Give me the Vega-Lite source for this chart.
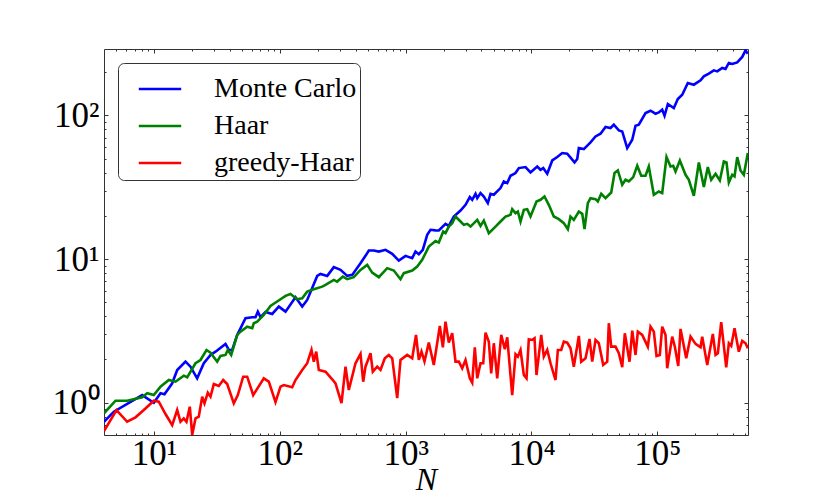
{
  "$schema": "https://vega.github.io/schema/vega-lite/v6.json",
  "width": 644,
  "height": 386,
  "autosize": {"type": "none"},
  "padding": {"left": 104, "top": 49, "right": 82, "bottom": 63},
  "background": "white",
  "data": {
    "values": [
      {"method": "Monte Carlo", "N": 4, "error": 0.737},
      {"method": "Monte Carlo", "N": 4.79, "error": 0.866},
      {"method": "Monte Carlo", "N": 8.05, "error": 1.13},
      {"method": "Monte Carlo", "N": 9.95, "error": 1.0},
      {"method": "Monte Carlo", "N": 11.25, "error": 1.163},
      {"method": "Monte Carlo", "N": 12.1, "error": 1.144},
      {"method": "Monte Carlo", "N": 13.94, "error": 1.365},
      {"method": "Monte Carlo", "N": 15.27, "error": 1.69},
      {"method": "Monte Carlo", "N": 17.78, "error": 1.931},
      {"method": "Monte Carlo", "N": 19.48, "error": 1.782},
      {"method": "Monte Carlo", "N": 22.0, "error": 1.479},
      {"method": "Monte Carlo", "N": 24.85, "error": 1.882},
      {"method": "Monte Carlo", "N": 28.1, "error": 2.15},
      {"method": "Monte Carlo", "N": 30.8, "error": 2.267},
      {"method": "Monte Carlo", "N": 36.97, "error": 2.566},
      {"method": "Monte Carlo", "N": 39.3, "error": 2.329},
      {"method": "Monte Carlo", "N": 41.8, "error": 2.329},
      {"method": "Monte Carlo", "N": 45.8, "error": 2.964},
      {"method": "Monte Carlo", "N": 53.3, "error": 3.875},
      {"method": "Monte Carlo", "N": 60.3, "error": 3.937},
      {"method": "Monte Carlo", "N": 64.0, "error": 3.937},
      {"method": "Monte Carlo", "N": 66.8, "error": 4.307},
      {"method": "Monte Carlo", "N": 70.2, "error": 3.937},
      {"method": "Monte Carlo", "N": 76.9, "error": 4.287},
      {"method": "Monte Carlo", "N": 86.9, "error": 4.151},
      {"method": "Monte Carlo", "N": 98.1, "error": 4.667},
      {"method": "Monte Carlo", "N": 110.9, "error": 4.307},
      {"method": "Monte Carlo", "N": 133.1, "error": 5.427},
      {"method": "Monte Carlo", "N": 150.5, "error": 4.667},
      {"method": "Monte Carlo", "N": 164.9, "error": 5.196},
      {"method": "Monte Carlo", "N": 198.1, "error": 7.636},
      {"method": "Monte Carlo", "N": 210.4, "error": 7.886},
      {"method": "Monte Carlo", "N": 237.9, "error": 7.636},
      {"method": "Monte Carlo", "N": 268.4, "error": 8.783},
      {"method": "Monte Carlo", "N": 303.4, "error": 8.409},
      {"method": "Monte Carlo", "N": 343, "error": 7.636},
      {"method": "Monte Carlo", "N": 375.8, "error": 7.76},
      {"method": "Monte Carlo", "N": 437.5, "error": 9.363},
      {"method": "Monte Carlo", "N": 479.3, "error": 10.53},
      {"method": "Monte Carlo", "N": 509.3, "error": 11.46},
      {"method": "Monte Carlo", "N": 558.1, "error": 11.46},
      {"method": "Monte Carlo", "N": 611.7, "error": 11.28},
      {"method": "Monte Carlo", "N": 691.3, "error": 11.59},
      {"method": "Monte Carlo", "N": 781.6, "error": 10.87},
      {"method": "Monte Carlo", "N": 881.9, "error": 9.76},
      {"method": "Monte Carlo", "N": 997, "error": 10.53},
      {"method": "Monte Carlo", "N": 1127, "error": 10.15},
      {"method": "Monte Carlo", "N": 1197, "error": 11.28},
      {"method": "Monte Carlo", "N": 1272, "error": 10.82},
      {"method": "Monte Carlo", "N": 1368, "error": 11.59},
      {"method": "Monte Carlo", "N": 1483, "error": 14.75},
      {"method": "Monte Carlo", "N": 1575, "error": 15.98},
      {"method": "Monte Carlo", "N": 1727, "error": 15.85},
      {"method": "Monte Carlo", "N": 1834, "error": 15.8},
      {"method": "Monte Carlo", "N": 2073, "error": 17.59},
      {"method": "Monte Carlo", "N": 2202, "error": 17.03},
      {"method": "Monte Carlo", "N": 2413, "error": 19.78},
      {"method": "Monte Carlo", "N": 2729, "error": 21.78},
      {"method": "Monte Carlo", "N": 2990, "error": 23.86},
      {"method": "Monte Carlo", "N": 3235, "error": 27.0},
      {"method": "Monte Carlo", "N": 3380, "error": 25.85},
      {"method": "Monte Carlo", "N": 3591, "error": 28.48},
      {"method": "Monte Carlo", "N": 3704, "error": 26.57},
      {"method": "Monte Carlo", "N": 3934, "error": 28.8},
      {"method": "Monte Carlo", "N": 4180, "error": 27.26},
      {"method": "Monte Carlo", "N": 4497, "error": 24.52},
      {"method": "Monte Carlo", "N": 4724, "error": 28.48},
      {"method": "Monte Carlo", "N": 5018, "error": 28.02},
      {"method": "Monte Carlo", "N": 5672, "error": 31.2},
      {"method": "Monte Carlo", "N": 6027, "error": 34.68},
      {"method": "Monte Carlo", "N": 6414, "error": 33.8},
      {"method": "Monte Carlo", "N": 6812, "error": 38.0},
      {"method": "Monte Carlo", "N": 7466, "error": 39.68},
      {"method": "Monte Carlo", "N": 7932, "error": 42.99},
      {"method": "Monte Carlo", "N": 8966, "error": 43.69},
      {"method": "Monte Carlo", "N": 9824, "error": 40.06},
      {"method": "Monte Carlo", "N": 11105, "error": 44.1},
      {"method": "Monte Carlo", "N": 11800, "error": 41.84},
      {"method": "Monte Carlo", "N": 12400, "error": 42.99},
      {"method": "Monte Carlo", "N": 13340, "error": 39.24},
      {"method": "Monte Carlo", "N": 14620, "error": 48.58},
      {"method": "Monte Carlo", "N": 16020, "error": 51.3},
      {"method": "Monte Carlo", "N": 17550, "error": 54.7},
      {"method": "Monte Carlo", "N": 19240, "error": 54.1},
      {"method": "Monte Carlo", "N": 21990, "error": 47.05},
      {"method": "Monte Carlo", "N": 23100, "error": 49.7},
      {"method": "Monte Carlo", "N": 23790, "error": 59.27},
      {"method": "Monte Carlo", "N": 26060, "error": 58.3},
      {"method": "Monte Carlo", "N": 29460, "error": 64.85},
      {"method": "Monte Carlo", "N": 32280, "error": 71.4},
      {"method": "Monte Carlo", "N": 35380, "error": 74.6},
      {"method": "Monte Carlo", "N": 38770, "error": 83.0},
      {"method": "Monte Carlo", "N": 42480, "error": 81.7},
      {"method": "Monte Carlo", "N": 45120, "error": 86.1},
      {"method": "Monte Carlo", "N": 49460, "error": 78.6},
      {"method": "Monte Carlo", "N": 52640, "error": 77.35},
      {"method": "Monte Carlo", "N": 57680, "error": 59.27},
      {"method": "Monte Carlo", "N": 63210, "error": 67.7},
      {"method": "Monte Carlo", "N": 67140, "error": 84.8},
      {"method": "Monte Carlo", "N": 71320, "error": 86.1},
      {"method": "Monte Carlo", "N": 80620, "error": 103.9},
      {"method": "Monte Carlo", "N": 88370, "error": 107.8},
      {"method": "Monte Carlo", "N": 96830, "error": 102.8},
      {"method": "Monte Carlo", "N": 102800, "error": 104.9},
      {"method": "Monte Carlo", "N": 109400, "error": 109.6},
      {"method": "Monte Carlo", "N": 114200, "error": 99.5},
      {"method": "Monte Carlo", "N": 121300, "error": 120.1},
      {"method": "Monte Carlo", "N": 135300, "error": 112.6},
      {"method": "Monte Carlo", "N": 145600, "error": 130.1},
      {"method": "Monte Carlo", "N": 157800, "error": 139.4},
      {"method": "Monte Carlo", "N": 174900, "error": 168.2},
      {"method": "Monte Carlo", "N": 195200, "error": 163.6},
      {"method": "Monte Carlo", "N": 220700, "error": 175.4},
      {"method": "Monte Carlo", "N": 234400, "error": 187.0},
      {"method": "Monte Carlo", "N": 256800, "error": 195.3},
      {"method": "Monte Carlo", "N": 281400, "error": 205.9},
      {"method": "Monte Carlo", "N": 299600, "error": 202.6},
      {"method": "Monte Carlo", "N": 328200, "error": 214.0},
      {"method": "Monte Carlo", "N": 348600, "error": 210.6},
      {"method": "Monte Carlo", "N": 370400, "error": 231.8},
      {"method": "Monte Carlo", "N": 394100, "error": 228.1},
      {"method": "Monte Carlo", "N": 431900, "error": 234.0},
      {"method": "Monte Carlo", "N": 473400, "error": 255.3},
      {"method": "Monte Carlo", "N": 502700, "error": 283.8},
      {"method": "Monte Carlo", "N": 524288, "error": 269.2},
      {"method": "Haar", "N": 4, "error": 0.844},
      {"method": "Haar", "N": 4.94, "error": 1.033},
      {"method": "Haar", "N": 6.11, "error": 1.033},
      {"method": "Haar", "N": 8.05, "error": 1.091},
      {"method": "Haar", "N": 8.82, "error": 1.163},
      {"method": "Haar", "N": 9.95, "error": 1.13},
      {"method": "Haar", "N": 11.25, "error": 1.293},
      {"method": "Haar", "N": 13.1, "error": 1.439},
      {"method": "Haar", "N": 14.8, "error": 1.401},
      {"method": "Haar", "N": 17.23, "error": 1.542},
      {"method": "Haar", "N": 18.34, "error": 1.503},
      {"method": "Haar", "N": 21.35, "error": 1.882},
      {"method": "Haar", "N": 23.39, "error": 1.984},
      {"method": "Haar", "N": 26.11, "error": 2.329},
      {"method": "Haar", "N": 28.1, "error": 2.231},
      {"method": "Haar", "N": 31.76, "error": 1.931},
      {"method": "Haar", "N": 33.74, "error": 2.116},
      {"method": "Haar", "N": 36.97, "error": 2.15},
      {"method": "Haar", "N": 38.56, "error": 2.329},
      {"method": "Haar", "N": 41.03, "error": 2.15},
      {"method": "Haar", "N": 45.8, "error": 2.964},
      {"method": "Haar", "N": 48.65, "error": 3.125},
      {"method": "Haar", "N": 55.0, "error": 3.385},
      {"method": "Haar", "N": 60.3, "error": 3.3},
      {"method": "Haar", "N": 62.05, "error": 3.575},
      {"method": "Haar", "N": 66.05, "error": 3.668},
      {"method": "Haar", "N": 74.5, "error": 4.085},
      {"method": "Haar", "N": 84.2, "error": 4.72},
      {"method": "Haar", "N": 101.2, "error": 5.255},
      {"method": "Haar", "N": 110.9, "error": 5.54},
      {"method": "Haar", "N": 121.5, "error": 5.72},
      {"method": "Haar", "N": 137.3, "error": 5.255},
      {"method": "Haar", "N": 150.5, "error": 5.34},
      {"method": "Haar", "N": 164.9, "error": 5.935},
      {"method": "Haar", "N": 186.1, "error": 6.17},
      {"method": "Haar", "N": 217.0, "error": 6.43},
      {"method": "Haar", "N": 230.6, "error": 6.61},
      {"method": "Haar", "N": 268.4, "error": 7.165},
      {"method": "Haar", "N": 285.6, "error": 6.97},
      {"method": "Haar", "N": 316.5, "error": 7.55},
      {"method": "Haar", "N": 343.0, "error": 7.245},
      {"method": "Haar", "N": 387.0, "error": 7.48},
      {"method": "Haar", "N": 437.5, "error": 8.409},
      {"method": "Haar", "N": 494.5, "error": 9.11},
      {"method": "Haar", "N": 541.9, "error": 8.05},
      {"method": "Haar", "N": 611.7, "error": 7.48},
      {"method": "Haar", "N": 713.2, "error": 8.645},
      {"method": "Haar", "N": 804.9, "error": 8.317},
      {"method": "Haar", "N": 909.7, "error": 7.245},
      {"method": "Haar", "N": 966.3, "error": 7.975},
      {"method": "Haar", "N": 1127, "error": 8.317},
      {"method": "Haar", "N": 1235, "error": 8.867},
      {"method": "Haar", "N": 1353, "error": 9.87},
      {"method": "Haar", "N": 1527, "error": 12.22},
      {"method": "Haar", "N": 1727, "error": 13.35},
      {"method": "Haar", "N": 1834, "error": 13.03},
      {"method": "Haar", "N": 1988, "error": 15.54},
      {"method": "Haar", "N": 2073, "error": 15.15},
      {"method": "Haar", "N": 2202, "error": 16.84},
      {"method": "Haar", "N": 2344, "error": 17.79},
      {"method": "Haar", "N": 2489, "error": 19.78},
      {"method": "Haar", "N": 2729, "error": 18.25},
      {"method": "Haar", "N": 2898, "error": 17.31},
      {"method": "Haar", "N": 3084, "error": 17.59},
      {"method": "Haar", "N": 3277, "error": 16.84},
      {"method": "Haar", "N": 3704, "error": 18.76},
      {"method": "Haar", "N": 3934, "error": 17.03},
      {"method": "Haar", "N": 4180, "error": 18.55},
      {"method": "Haar", "N": 4580, "error": 15.15},
      {"method": "Haar", "N": 5177, "error": 16.84},
      {"method": "Haar", "N": 5672, "error": 18.25},
      {"method": "Haar", "N": 6218, "error": 19.78},
      {"method": "Haar", "N": 6812, "error": 20.32},
      {"method": "Haar", "N": 7027, "error": 22.27},
      {"method": "Haar", "N": 7466, "error": 20.88},
      {"method": "Haar", "N": 7789, "error": 21.43},
      {"method": "Haar", "N": 8182, "error": 18.25},
      {"method": "Haar", "N": 8693, "error": 22.02},
      {"method": "Haar", "N": 9250, "error": 22.27},
      {"method": "Haar", "N": 9824, "error": 19.78},
      {"method": "Haar", "N": 10960, "error": 25.16},
      {"method": "Haar", "N": 11800, "error": 25.85},
      {"method": "Haar", "N": 12690, "error": 27.26},
      {"method": "Haar", "N": 13730, "error": 23.86},
      {"method": "Haar", "N": 15050, "error": 19.78},
      {"method": "Haar", "N": 16500, "error": 18.97},
      {"method": "Haar", "N": 18070, "error": 17.79},
      {"method": "Haar", "N": 19450, "error": 16.16},
      {"method": "Haar", "N": 20430, "error": 19.78},
      {"method": "Haar", "N": 21700, "error": 18.76},
      {"method": "Haar", "N": 23790, "error": 21.43},
      {"method": "Haar", "N": 25320, "error": 20.65},
      {"method": "Haar", "N": 26400, "error": 16.16},
      {"method": "Haar", "N": 28040, "error": 24.52},
      {"method": "Haar", "N": 29460, "error": 26.57},
      {"method": "Haar", "N": 32280, "error": 26.15},
      {"method": "Haar", "N": 33670, "error": 25.16},
      {"method": "Haar", "N": 35840, "error": 28.48},
      {"method": "Haar", "N": 38770, "error": 26.57},
      {"method": "Haar", "N": 43030, "error": 29.07},
      {"method": "Haar", "N": 45710, "error": 39.68},
      {"method": "Haar", "N": 48570, "error": 41.37},
      {"method": "Haar", "N": 52640, "error": 32.9},
      {"method": "Haar", "N": 55910, "error": 35.64},
      {"method": "Haar", "N": 59380, "error": 34.68},
      {"method": "Haar", "N": 64370, "error": 37.22},
      {"method": "Haar", "N": 69260, "error": 44.6},
      {"method": "Haar", "N": 74530, "error": 38.0},
      {"method": "Haar", "N": 80620, "error": 38.0},
      {"method": "Haar", "N": 85610, "error": 44.1},
      {"method": "Haar", "N": 93850, "error": 28.02},
      {"method": "Haar", "N": 102800, "error": 29.54},
      {"method": "Haar", "N": 109400, "error": 28.8},
      {"method": "Haar", "N": 118400, "error": 51.3},
      {"method": "Haar", "N": 127400, "error": 44.1},
      {"method": "Haar", "N": 133800, "error": 44.6},
      {"method": "Haar", "N": 139600, "error": 40.72},
      {"method": "Haar", "N": 151100, "error": 48.58},
      {"method": "Haar", "N": 167700, "error": 38.62},
      {"method": "Haar", "N": 178100, "error": 35.64},
      {"method": "Haar", "N": 195200, "error": 27.57},
      {"method": "Haar", "N": 213900, "error": 47.05},
      {"method": "Haar", "N": 234400, "error": 31.7},
      {"method": "Haar", "N": 252100, "error": 43.69},
      {"method": "Haar", "N": 268300, "error": 35.64},
      {"method": "Haar", "N": 290400, "error": 39.24},
      {"method": "Haar", "N": 314100, "error": 35.24},
      {"method": "Haar", "N": 338000, "error": 47.8},
      {"method": "Haar", "N": 355000, "error": 47.05},
      {"method": "Haar", "N": 370400, "error": 34.13},
      {"method": "Haar", "N": 394100, "error": 38.62},
      {"method": "Haar", "N": 411100, "error": 37.58},
      {"method": "Haar", "N": 431900, "error": 51.3},
      {"method": "Haar", "N": 458900, "error": 41.37},
      {"method": "Haar", "N": 487400, "error": 38.62},
      {"method": "Haar", "N": 524288, "error": 54.7},
      {"method": "greedy-Haar", "N": 4, "error": 0.635},
      {"method": "greedy-Haar", "N": 5.03, "error": 0.889},
      {"method": "greedy-Haar", "N": 6.11, "error": 0.737},
      {"method": "greedy-Haar", "N": 7.12, "error": 0.791},
      {"method": "greedy-Haar", "N": 8.29, "error": 0.889},
      {"method": "greedy-Haar", "N": 9.95, "error": 1.033},
      {"method": "greedy-Haar", "N": 10.9, "error": 1.016},
      {"method": "greedy-Haar", "N": 12.33, "error": 0.834},
      {"method": "greedy-Haar", "N": 13.94, "error": 0.699},
      {"method": "greedy-Haar", "N": 15.27, "error": 0.889},
      {"method": "greedy-Haar", "N": 16.22, "error": 0.737},
      {"method": "greedy-Haar", "N": 17.23, "error": 0.778},
      {"method": "greedy-Haar", "N": 18.1, "error": 0.737},
      {"method": "greedy-Haar", "N": 19.23, "error": 0.938},
      {"method": "greedy-Haar", "N": 20.1, "error": 0.598},
      {"method": "greedy-Haar", "N": 21.35, "error": 0.778},
      {"method": "greedy-Haar", "N": 22.67, "error": 0.799},
      {"method": "greedy-Haar", "N": 24.13, "error": 1.101},
      {"method": "greedy-Haar", "N": 25.17, "error": 0.99},
      {"method": "greedy-Haar", "N": 26.74, "error": 1.174},
      {"method": "greedy-Haar", "N": 28.1, "error": 1.101},
      {"method": "greedy-Haar", "N": 29.85, "error": 1.35},
      {"method": "greedy-Haar", "N": 32.7, "error": 1.307},
      {"method": "greedy-Haar", "N": 35.44, "error": 1.439},
      {"method": "greedy-Haar", "N": 38.13, "error": 1.35},
      {"method": "greedy-Haar", "N": 43.03, "error": 0.99},
      {"method": "greedy-Haar", "N": 46.3, "error": 1.13},
      {"method": "greedy-Haar", "N": 51.1, "error": 1.518},
      {"method": "greedy-Haar", "N": 55.0, "error": 1.518},
      {"method": "greedy-Haar", "N": 61.4, "error": 1.13},
      {"method": "greedy-Haar", "N": 74.5, "error": 1.479},
      {"method": "greedy-Haar", "N": 81.66, "error": 1.401},
      {"method": "greedy-Haar", "N": 92.3, "error": 1.011},
      {"method": "greedy-Haar", "N": 101.2, "error": 1.293},
      {"method": "greedy-Haar", "N": 107.5, "error": 1.328},
      {"method": "greedy-Haar", "N": 125.3, "error": 1.28},
      {"method": "greedy-Haar", "N": 133.1, "error": 1.439},
      {"method": "greedy-Haar", "N": 150.5, "error": 1.69},
      {"method": "greedy-Haar", "N": 164.9, "error": 1.882},
      {"method": "greedy-Haar", "N": 178.4, "error": 2.329},
      {"method": "greedy-Haar", "N": 186.1, "error": 1.931},
      {"method": "greedy-Haar", "N": 194.5, "error": 2.267},
      {"method": "greedy-Haar", "N": 203.9, "error": 1.69},
      {"method": "greedy-Haar", "N": 230.6, "error": 1.644},
      {"method": "greedy-Haar", "N": 260.6, "error": 1.456},
      {"method": "greedy-Haar", "N": 276.8, "error": 1.365},
      {"method": "greedy-Haar", "N": 309.0, "error": 0.995},
      {"method": "greedy-Haar", "N": 332.5, "error": 1.782},
      {"method": "greedy-Haar", "N": 353.1, "error": 1.226},
      {"method": "greedy-Haar", "N": 399.2, "error": 1.882},
      {"method": "greedy-Haar", "N": 437.5, "error": 2.185},
      {"method": "greedy-Haar", "N": 459.5, "error": 1.401},
      {"method": "greedy-Haar", "N": 479.3, "error": 1.782},
      {"method": "greedy-Haar", "N": 525.3, "error": 2.21},
      {"method": "greedy-Haar", "N": 547.9, "error": 1.644},
      {"method": "greedy-Haar", "N": 593.9, "error": 1.782},
      {"method": "greedy-Haar", "N": 630.8, "error": 1.69},
      {"method": "greedy-Haar", "N": 682.5, "error": 2.039},
      {"method": "greedy-Haar", "N": 734.2, "error": 2.15},
      {"method": "greedy-Haar", "N": 781.6, "error": 2.039},
      {"method": "greedy-Haar", "N": 856.4, "error": 1.078},
      {"method": "greedy-Haar", "N": 909.7, "error": 1.984},
      {"method": "greedy-Haar", "N": 1028, "error": 2.15},
      {"method": "greedy-Haar", "N": 1127, "error": 2.039},
      {"method": "greedy-Haar", "N": 1208, "error": 2.964},
      {"method": "greedy-Haar", "N": 1272, "error": 1.984},
      {"method": "greedy-Haar", "N": 1336, "error": 2.267},
      {"method": "greedy-Haar", "N": 1411, "error": 1.937},
      {"method": "greedy-Haar", "N": 1527, "error": 2.619},
      {"method": "greedy-Haar", "N": 1673, "error": 1.831},
      {"method": "greedy-Haar", "N": 1868, "error": 3.423},
      {"method": "greedy-Haar", "N": 1974, "error": 2.432},
      {"method": "greedy-Haar", "N": 2073, "error": 3.668},
      {"method": "greedy-Haar", "N": 2202, "error": 2.619},
      {"method": "greedy-Haar", "N": 2344, "error": 3.045},
      {"method": "greedy-Haar", "N": 2489, "error": 1.931},
      {"method": "greedy-Haar", "N": 2645, "error": 1.931},
      {"method": "greedy-Haar", "N": 2813, "error": 1.737},
      {"method": "greedy-Haar", "N": 2990, "error": 1.984},
      {"method": "greedy-Haar", "N": 3235, "error": 1.479},
      {"method": "greedy-Haar", "N": 3380, "error": 1.378},
      {"method": "greedy-Haar", "N": 3544, "error": 2.432},
      {"method": "greedy-Haar", "N": 3704, "error": 1.479},
      {"method": "greedy-Haar", "N": 3934, "error": 1.882},
      {"method": "greedy-Haar", "N": 4134, "error": 1.882},
      {"method": "greedy-Haar", "N": 4312, "error": 3.075},
      {"method": "greedy-Haar", "N": 4580, "error": 2.661},
      {"method": "greedy-Haar", "N": 4785, "error": 1.603},
      {"method": "greedy-Haar", "N": 5018, "error": 2.594},
      {"method": "greedy-Haar", "N": 5341, "error": 1.479},
      {"method": "greedy-Haar", "N": 5746, "error": 2.964},
      {"method": "greedy-Haar", "N": 6138, "error": 2.356},
      {"method": "greedy-Haar", "N": 6414, "error": 2.856},
      {"method": "greedy-Haar", "N": 7027, "error": 1.13},
      {"method": "greedy-Haar", "N": 7466, "error": 2.175},
      {"method": "greedy-Haar", "N": 7789, "error": 2.092},
      {"method": "greedy-Haar", "N": 8182, "error": 2.329},
      {"method": "greedy-Haar", "N": 8693, "error": 1.56},
      {"method": "greedy-Haar", "N": 9130, "error": 1.479},
      {"method": "greedy-Haar", "N": 9524, "error": 2.766},
      {"method": "greedy-Haar", "N": 10130, "error": 2.735},
      {"method": "greedy-Haar", "N": 10570, "error": 2.811},
      {"method": "greedy-Haar", "N": 10960, "error": 1.56},
      {"method": "greedy-Haar", "N": 11950, "error": 2.964},
      {"method": "greedy-Haar", "N": 12530, "error": 2.092},
      {"method": "greedy-Haar", "N": 13340, "error": 2.329},
      {"method": "greedy-Haar", "N": 14170, "error": 1.882},
      {"method": "greedy-Haar", "N": 15520, "error": 1.439},
      {"method": "greedy-Haar", "N": 16200, "error": 2.329},
      {"method": "greedy-Haar", "N": 17230, "error": 2.329},
      {"method": "greedy-Haar", "N": 18070, "error": 2.661},
      {"method": "greedy-Haar", "N": 19240, "error": 2.619},
      {"method": "greedy-Haar", "N": 20430, "error": 2.394},
      {"method": "greedy-Haar", "N": 21700, "error": 1.782},
      {"method": "greedy-Haar", "N": 23790, "error": 2.916},
      {"method": "greedy-Haar", "N": 24850, "error": 1.931},
      {"method": "greedy-Haar", "N": 26890, "error": 2.039},
      {"method": "greedy-Haar", "N": 28920, "error": 2.779},
      {"method": "greedy-Haar", "N": 30400, "error": 1.931},
      {"method": "greedy-Haar", "N": 32280, "error": 2.735},
      {"method": "greedy-Haar", "N": 34290, "error": 2.594},
      {"method": "greedy-Haar", "N": 37170, "error": 1.831},
      {"method": "greedy-Haar", "N": 39990, "error": 1.931},
      {"method": "greedy-Haar", "N": 41180, "error": 3.575},
      {"method": "greedy-Haar", "N": 43030, "error": 2.456},
      {"method": "greedy-Haar", "N": 46560, "error": 2.456},
      {"method": "greedy-Haar", "N": 49460, "error": 2.21},
      {"method": "greedy-Haar", "N": 52640, "error": 1.765},
      {"method": "greedy-Haar", "N": 55190, "error": 3.045},
      {"method": "greedy-Haar", "N": 60160, "error": 1.931},
      {"method": "greedy-Haar", "N": 63210, "error": 3.175},
      {"method": "greedy-Haar", "N": 67140, "error": 2.15},
      {"method": "greedy-Haar", "N": 70030, "error": 3.125},
      {"method": "greedy-Haar", "N": 75900, "error": 2.964},
      {"method": "greedy-Haar", "N": 84050, "error": 2.456},
      {"method": "greedy-Haar", "N": 88370, "error": 3.385},
      {"method": "greedy-Haar", "N": 93850, "error": 3.125},
      {"method": "greedy-Haar", "N": 98580, "error": 2.116},
      {"method": "greedy-Haar", "N": 104700, "error": 2.15},
      {"method": "greedy-Haar", "N": 109400, "error": 3.385},
      {"method": "greedy-Haar", "N": 116300, "error": 2.964},
      {"method": "greedy-Haar", "N": 119900, "error": 1.737},
      {"method": "greedy-Haar", "N": 131400, "error": 2.884},
      {"method": "greedy-Haar", "N": 137900, "error": 2.456},
      {"method": "greedy-Haar", "N": 146700, "error": 1.802},
      {"method": "greedy-Haar", "N": 153000, "error": 3.263},
      {"method": "greedy-Haar", "N": 169800, "error": 2.039},
      {"method": "greedy-Haar", "N": 183800, "error": 2.884},
      {"method": "greedy-Haar", "N": 201300, "error": 2.566},
      {"method": "greedy-Haar", "N": 220700, "error": 2.432},
      {"method": "greedy-Haar", "N": 227600, "error": 2.884},
      {"method": "greedy-Haar", "N": 249400, "error": 1.831},
      {"method": "greedy-Haar", "N": 276300, "error": 3.011},
      {"method": "greedy-Haar", "N": 290400, "error": 2.15},
      {"method": "greedy-Haar", "N": 302900, "error": 2.21},
      {"method": "greedy-Haar", "N": 322200, "error": 3.633},
      {"method": "greedy-Haar", "N": 353100, "error": 1.765},
      {"method": "greedy-Haar", "N": 370400, "error": 2.594},
      {"method": "greedy-Haar", "N": 387000, "error": 2.484},
      {"method": "greedy-Haar", "N": 411100, "error": 3.3},
      {"method": "greedy-Haar", "N": 444700, "error": 2.267},
      {"method": "greedy-Haar", "N": 473400, "error": 2.692},
      {"method": "greedy-Haar", "N": 502700, "error": 2.594},
      {"method": "greedy-Haar", "N": 524288, "error": 2.394}
    ]
  },
  "layer": [
    {
      "mark": {"type": "line", "strokeWidth": 2.6, "clip": true},
      "encoding": {
        "x": {
          "field": "N",
          "type": "quantitative",
          "scale": {"type": "log", "domain": [4, 526000], "nice": false},
          "axis": {
            "orient": "bottom",
            "values": [10, 100, 1000, 10000, 100000],
            "labelExpr": "datum.value == 10 ? '10¹' : datum.value == 100 ? '10²' : datum.value == 1000 ? '10³' : datum.value == 10000 ? '10⁴' : '10⁵'",
            "tickSize": -4,
            "labelPadding": 5,
            "title": "N",
            "titleFontStyle": "italic",
            "titleFontSize": 32,
            "titlePadding": -7
          }
        },
        "y": {
          "field": "error",
          "type": "quantitative",
          "scale": {"type": "log", "domain": [0.596, 290], "nice": false},
          "axis": {
            "orient": "left",
            "values": [1, 10, 100],
            "labelExpr": "datum.value == 1 ? '10⁰' : datum.value == 10 ? '10¹' : '10²'",
            "tickSize": -4,
            "labelPadding": 9,
            "title": null
          }
        },
        "color": {
          "field": "method",
          "type": "nominal",
          "scale": {
            "domain": ["Monte Carlo", "Haar", "greedy-Haar"],
            "range": ["#0000ff", "#008000", "#ff0000"]
          },
          "legend": {
            "title": null,
            "orient": "top-left",
            "offset": 14,
            "fillColor": "white",
            "strokeColor": "#333333",
            "cornerRadius": 6,
            "padding": 3,
            "symbolType": "stroke",
            "symbolSize": 1800,
            "symbolStrokeWidth": 2.6,
            "symbolOffset": 16,
            "labelOffset": 31,
            "labelFontSize": 28,
            "labelColor": "black",
            "labelLimit": 300,
            "rowPadding": -2
          }
        }
      }
    },
    {
      "mark": {"type": "point", "opacity": 0},
      "encoding": {
        "x": {
          "field": "N",
          "type": "quantitative",
          "axis": {"orient": "top", "values": [10, 100, 1000, 10000, 100000], "labels": false, "tickSize": -4, "title": null}
        },
        "y": {
          "field": "error",
          "type": "quantitative",
          "axis": {"orient": "right", "values": [1, 10, 100], "labels": false, "tickSize": -4, "title": null}
        }
      }
    },
    {
      "mark": {"type": "point", "opacity": 0},
      "encoding": {
        "x": {
          "field": "N",
          "type": "quantitative",
          "axis": {
            "orient": "bottom",
            "values": [5, 6, 7, 8, 9, 20, 30, 40, 50, 60, 70, 80, 90, 200, 300, 400, 500, 600, 700, 800, 900, 2000, 3000, 4000, 5000, 6000, 7000, 8000, 9000, 20000, 30000, 40000, 50000, 60000, 70000, 80000, 90000, 200000, 300000, 400000, 500000],
            "labels": false, "tickSize": -2, "title": null
          }
        },
        "y": {
          "field": "error",
          "type": "quantitative",
          "axis": {
            "orient": "left",
            "values": [0.6, 0.7, 0.8, 0.9, 2, 3, 4, 5, 6, 7, 8, 9, 20, 30, 40, 50, 60, 70, 80, 90, 200],
            "labels": false, "tickSize": -2, "title": null
          }
        }
      }
    },
    {
      "mark": {"type": "point", "opacity": 0},
      "encoding": {
        "x": {
          "field": "N",
          "type": "quantitative",
          "axis": {
            "orient": "top",
            "values": [5, 6, 7, 8, 9, 20, 30, 40, 50, 60, 70, 80, 90, 200, 300, 400, 500, 600, 700, 800, 900, 2000, 3000, 4000, 5000, 6000, 7000, 8000, 9000, 20000, 30000, 40000, 50000, 60000, 70000, 80000, 90000, 200000, 300000, 400000, 500000],
            "labels": false, "tickSize": -2, "title": null
          }
        },
        "y": {
          "field": "error",
          "type": "quantitative",
          "axis": {
            "orient": "right",
            "values": [0.6, 0.7, 0.8, 0.9, 2, 3, 4, 5, 6, 7, 8, 9, 20, 30, 40, 50, 60, 70, 80, 90, 200],
            "labels": false, "tickSize": -2, "title": null
          }
        }
      }
    }
  ],
  "resolve": {"axis": {"x": "independent", "y": "independent"}},
  "config": {
    "font": "Liberation Serif",
    "view": {"stroke": "#333333", "strokeWidth": 1},
    "axis": {
      "grid": false,
      "domain": false,
      "tickColor": "#333333",
      "tickWidth": 1,
      "labelFont": "Liberation Serif",
      "labelFontSize": 35,
      "labelColor": "black",
      "titleFont": "Liberation Serif",
      "titleColor": "black",
      "titleFontWeight": "normal"
    },
    "legend": {"labelFont": "Liberation Serif"}
  }
}
